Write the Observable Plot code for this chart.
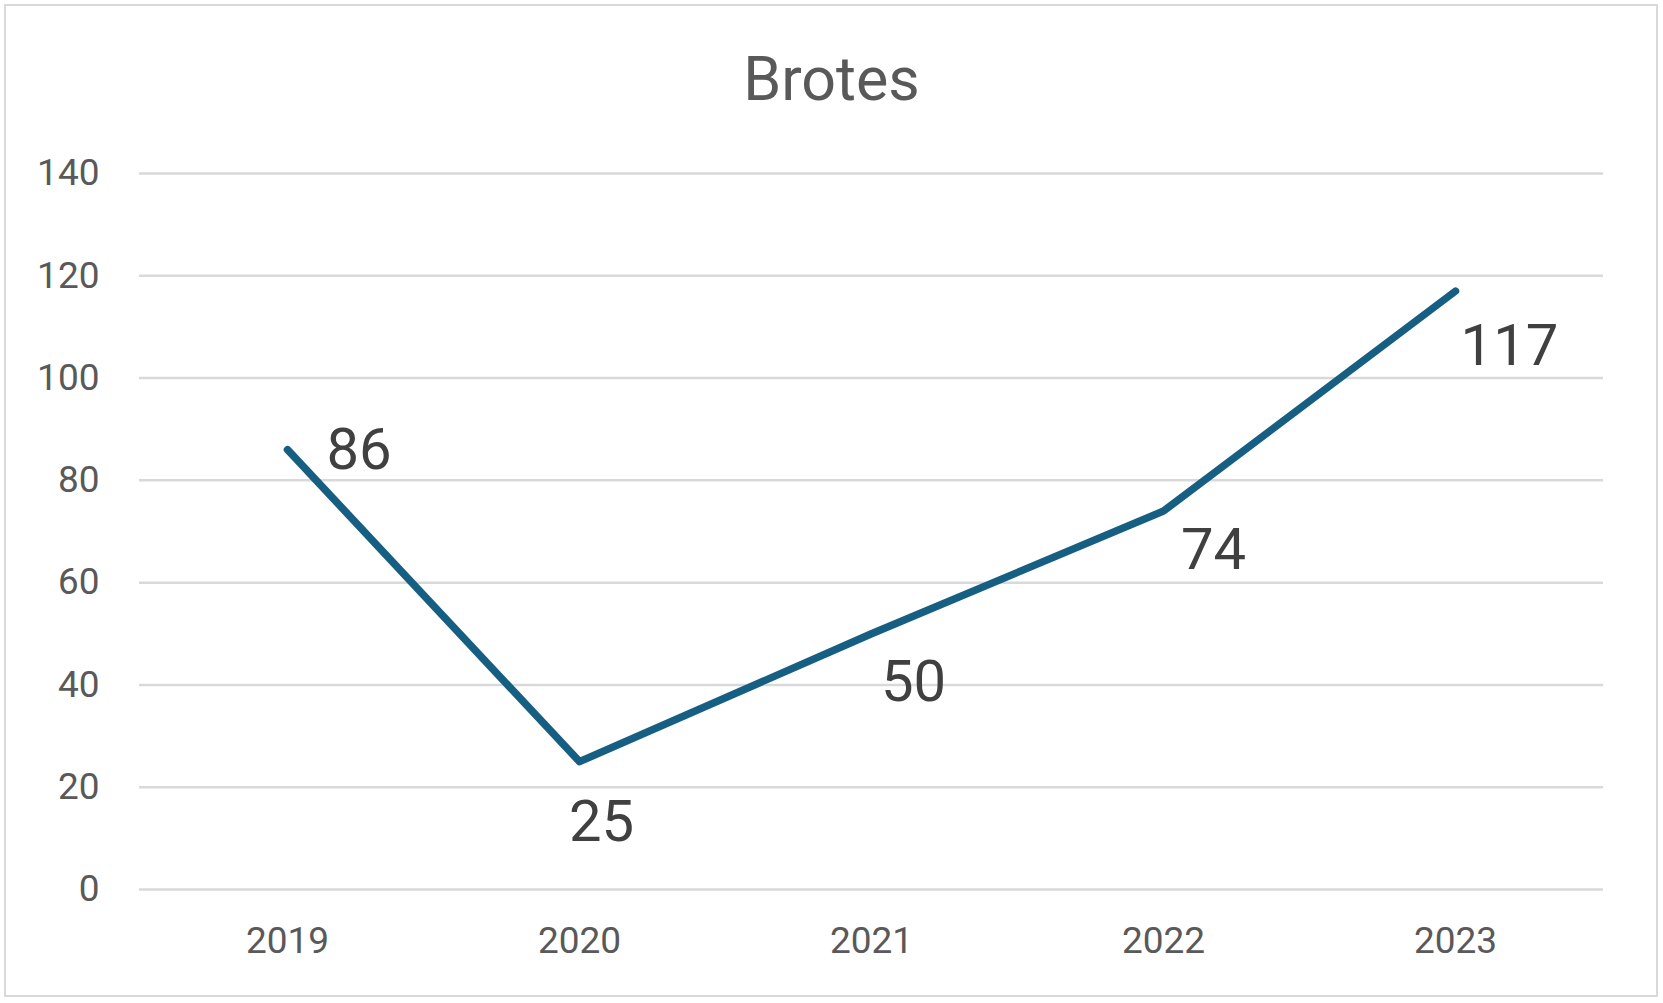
<!DOCTYPE html>
<html>
<head>
<meta charset="utf-8">
<script src="https://cdn.jsdelivr.net/npm/d3@7"></script>
<script src="https://cdn.jsdelivr.net/npm/@observablehq/plot@0.6"></script>
<style>
  html, body { margin: 0; padding: 0; background: #fff; }
  #chart { position: relative; width: 1663px; height: 1003px; }
  #chart svg { display: block; }
  #frame { position: absolute; left: 4px; top: 4px; width: 1650px; height: 989px; border: 2px solid #d9d9d9; pointer-events: none; }
</style>
</head>
<body>
<div id="chart"><div id="frame"></div></div>
<script>
const title = "Brotes";
const years = ["2019", "2020", "2021", "2022", "2023"];
const brotes = [86, 25, 50, 74, 117];
const yTicks = [0, 20, 40, 60, 80, 100, 120, 140];

// label placement (annotation offsets, kept apart from data)
const labelAnchor = ["start", "middle", "middle", "middle", "middle"];
const labelDx = [39, 22, 42, 50, 54];
const labelDy = [1, 61, 49, 39, 55];

const data = years.map((y, i) => ({year: y, value: brotes[i], i}));

const font = "Roboto, 'Liberation Sans', sans-serif";

const labelMarks = data.map(d => Plot.text([d], {
  x: "year", y: "value", text: d => String(d.value),
  textAnchor: labelAnchor[d.i], dx: labelDx[d.i], dy: labelDy[d.i],
  fill: "#404040", fontSize: 58, fontFamily: font
}));

const chart = Plot.plot({
  width: 1663,
  height: 1003,
  marginLeft: 139,
  marginRight: 60,
  marginTop: 173,
  marginBottom: 114,
  style: {fontFamily: font, background: "transparent", overflow: "visible"},
  x: {type: "point", domain: years, padding: 0.5, label: null},
  y: {domain: [0, 140], ticks: yTicks, label: null},
  marks: [
    Plot.gridY(yTicks, {stroke: "#d9d9d9", strokeOpacity: 1, strokeWidth: 2.5}),
    Plot.axisY(yTicks, {tickSize: 0, tickPadding: 40, fontSize: 37, fill: "#595959", label: null}),
    Plot.axisX({tickSize: 0, tickPadding: 37, fontSize: 37, fill: "#595959", label: null}),
    Plot.line(data, {x: "year", y: "value", stroke: "#175f82", strokeWidth: 7.5, strokeLinecap: "round", strokeLinejoin: "round"}),
    ...labelMarks,
    Plot.text([title], {frameAnchor: "top", dx: -40, dy: -74, lineAnchor: "bottom", fontSize: 61, fill: "#595959", fontFamily: font})
  ]
});
document.getElementById("chart").prepend(chart);
</script>
</body>
</html>
